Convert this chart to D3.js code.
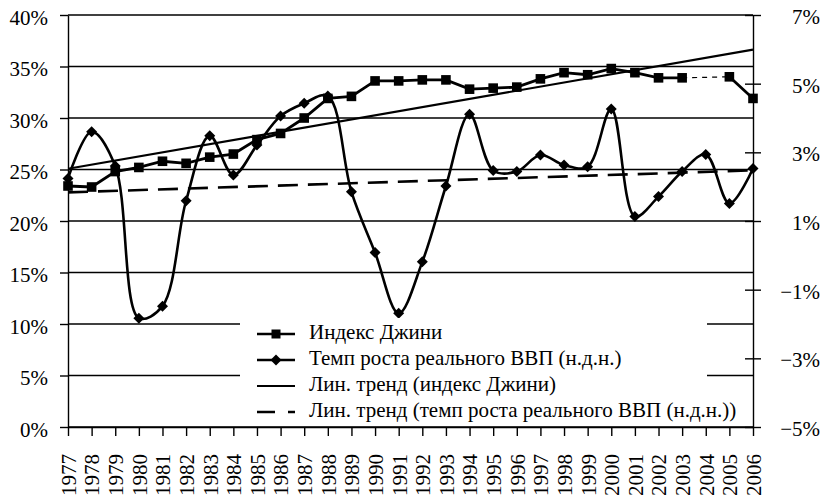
<!DOCTYPE html>
<html>
<head>
<meta charset="utf-8">
<script src="https://cdn.jsdelivr.net/npm/d3@7/dist/d3.min.js"></script>
<style>
    body { margin: 0; background: #fff; }
    svg { display: block; }
</style>
</head>
<body>
<svg id="chart" width="827" height="500"></svg>
<script>
    var years = ['1977', '1978', '1979', '1980', '1981', '1982', '1983', '1984', '1985', '1986',
        '1987', '1988', '1989', '1990', '1991', '1992', '1993', '1994', '1995', '1996',
        '1997', '1998', '1999', '2000', '2001', '2002', '2003', '2004', '2005', '2006'];

    // Индекс Джини, % (2004 - нет данных)
    var gini = [23.4, 23.3, 24.8, 25.2, 25.8, 25.6, 26.2, 26.5, 27.9, 28.5,
        30.0, 31.9, 32.1, 33.6, 33.6, 33.7, 33.7, 32.8, 32.9, 33.0,
        33.8, 34.4, 34.2, 34.8, 34.4, 33.9, 33.9, null, 34.0, 31.9];

    // Темп роста реального ВВП, % (правая ось)
    var gdp = [2.24, 3.60, 2.60, -1.83, -1.48, 1.59, 3.48, 2.34, 3.21, 4.06,
        4.43, 4.64, 1.85, 0.08, -1.69, -0.19, 2.02, 4.11, 2.47, 2.44,
        2.92, 2.63, 2.58, 4.26, 1.13, 1.71, 2.44, 2.94, 1.51, 2.53];

    var leftTicks = [0, 5, 10, 15, 20, 25, 30, 35, 40];
    var rightTicks = [-5, -3, -1, 1, 3, 5, 7];

    var legendLabels = ['Индекс Джини',
        'Темп роста реального ВВП (н.д.н.)',
        'Лин. тренд (индекс Джини)',
        'Лин. тренд (темп роста реального ВВП (н.д.н.))'];

    var FONT = "'Liberation Serif'";

    var svg = d3.select('#chart');

    var x = d3.scalePoint().domain(years).range([68, 753]);
    var yL = d3.scaleLinear().domain([0, 40]).range([427, 15]);
    var yR = d3.scaleLinear().domain([-5, 7]).range([427, 15]);

    // least squares over the category index, nulls skipped (like Excel trendline)
    function trend(values) {
        var pts = [];
        values.forEach(function (v, i) { if (v != null) pts.push([i, v]); });
        var mx = d3.mean(pts, p => p[0]), my = d3.mean(pts, p => p[1]);
        var sxy = d3.sum(pts, p => (p[0] - mx) * (p[1] - my));
        var sxx = d3.sum(pts, p => (p[0] - mx) * (p[0] - mx));
        var b = sxy / sxx, a = my - b * mx;
        return [0, values.length - 1].map(i => [years[i], a + b * i]);
    }

    // horizontal grid
    svg.append('g').selectAll('line').data(leftTicks).join('line')
        .attr('x1', 68).attr('x2', 753)
        .attr('y1', d => yL(d)).attr('y2', d => yL(d))
        .attr('stroke', '#000').attr('stroke-width', 1.3);

    // axes
    var axL = svg.append('g').attr('transform', 'translate(68,0)')
        .call(d3.axisLeft(yL).tickValues(leftTicks).tickFormat(d => d + '%').tickSize(8).tickSizeOuter(0).tickPadding(12));
    axL.selectAll('.tick text').attr('dy', '0.45em');
    var axR = svg.append('g').attr('transform', 'translate(753,0)')
        .call(d3.axisRight(yR).tickValues(rightTicks)
            .tickFormat(d => (d < 0 ? '\u2212' : '') + Math.abs(d) + '%').tickSize(8).tickSizeOuter(0));
    axR.selectAll('.tick line').attr('x1', -8).attr('x2', 8);
    axR.selectAll('.tick text').attr('x', 67).attr('text-anchor', 'end').attr('dy', '0.4em');

    var axB = svg.append('g').attr('transform', 'translate(0,427)')
        .call(d3.axisBottom(x).tickSize(9).tickSizeOuter(0));
    axB.selectAll('.tick text')
        .attr('transform', 'rotate(-90)')
        .attr('text-anchor', 'end')
        .attr('x', -27).attr('y', 0).attr('dy', '0.35em');

    svg.selectAll('.domain, .tick line').attr('stroke', '#000').attr('stroke-width', 1.4);
    svg.selectAll('g').attr('font-family', null);
    svg.selectAll('.tick text').attr('font-size', 21).attr('fill', '#000')
        .style('font-family', FONT);

    // legend background (drawn before series, over grid)
    var lg = svg.append('g');
    lg.append('rect').attr('x', 240).attr('y', 318).attr('width', 467).attr('height', 107).attr('fill', '#fff');

    // trend lines
    svg.append('path')
        .datum(trend(gini))
        .attr('d', d3.line().x(d => x(d[0])).y(d => yL(d[1])))
        .attr('fill', 'none').attr('stroke', '#000').attr('stroke-width', 2.2);
    svg.append('path')
        .datum(trend(gdp))
        .attr('d', d3.line().x(d => x(d[0])).y(d => yR(d[1])))
        .attr('fill', 'none').attr('stroke', '#000').attr('stroke-width', 2.6)
        .attr('stroke-dasharray', '20,10');

    // GDP growth, smoothed
    var gdpPts = gdp.map((v, i) => [years[i], v]);
    svg.append('path')
        .datum(gdpPts)
        .attr('d', d3.line().x(d => x(d[0])).y(d => yR(d[1])).curve(d3.curveCatmullRom.alpha(0.5)))
        .attr('fill', 'none').attr('stroke', '#000').attr('stroke-width', 2.6);

    var diamond = 'M0,-5.5L5.5,0L0,5.5L-5.5,0Z';
    svg.append('g').selectAll('path').data(gdpPts).join('path')
        .attr('transform', d => 'translate(' + x(d[0]) + ',' + yR(d[1]) + ')')
        .attr('d', diamond).attr('fill', '#000');

    // Gini, straight segments, dashed bridge over missing years
    var giniPts = gini.map((v, i) => [years[i], v]);
    svg.append('path')
        .datum(giniPts)
        .attr('d', d3.line().defined(d => d[1] != null).x(d => x(d[0])).y(d => yL(d[1])))
        .attr('fill', 'none').attr('stroke', '#000').attr('stroke-width', 2.8);

    gini.forEach(function (v, i) {
        if (v == null && i > 0 && i < gini.length - 1) {
            svg.append('line')
                .attr('x1', x(years[i - 1])).attr('y1', yL(gini[i - 1]))
                .attr('x2', x(years[i + 1])).attr('y2', yL(gini[i + 1]))
                .attr('stroke', '#000').attr('stroke-width', 1.2).attr('stroke-dasharray', '5,5');
        }
    });

    svg.append('g').selectAll('rect').data(giniPts.filter(d => d[1] != null)).join('rect')
        .attr('x', d => x(d[0]) - 4.8).attr('y', d => yL(d[1]) - 4.8)
        .attr('width', 9.6).attr('height', 9.6).attr('fill', '#000');

    // legend entries
    var rowY = [339, 365, 391, 417];
    legendLabels.forEach(function (label, i) {
        var ly = rowY[i] - 5;
        var ln = lg.append('line').attr('x1', 257).attr('x2', 295).attr('y1', ly).attr('y2', ly)
            .attr('stroke', '#000').attr('stroke-width', i == 2 ? 2.2 : 2.6);
        if (i == 3) ln.attr('stroke-dasharray', '18,13');
        if (i == 0) lg.append('rect').attr('x', 271.5).attr('y', ly - 4.5).attr('width', 9).attr('height', 9).attr('fill', '#000');
        if (i == 1) lg.append('path').attr('transform', 'translate(276,' + ly + ')').attr('d', diamond).attr('fill', '#000');
        lg.append('text').attr('x', 309).attr('y', rowY[i]).attr('font-size', 21)
            .style('font-family', FONT).attr('fill', '#000').text(label);
    });
    lg.raise();
</script>
</body>
</html>
